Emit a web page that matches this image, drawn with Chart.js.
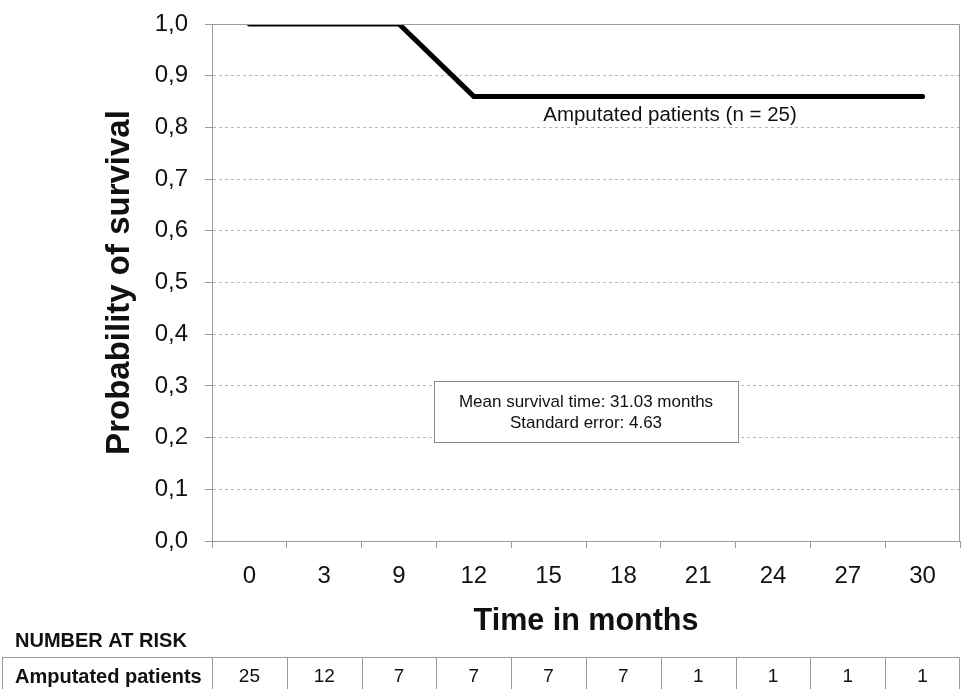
<!DOCTYPE html>
<html>
<head>
<meta charset="utf-8">
<script src="https://cdn.jsdelivr.net/npm/chart.js@4.4.0/dist/chart.umd.min.js"></script>
<style>
    html, body { margin: 0; padding: 0; background: #fff; }
    #wrap { width: 962px; height: 689px; }
</style>
</head>
<body>
<div id="wrap"><canvas id="survivalChart" width="962" height="689"></canvas></div>
<script>
// Kaplan-Meier data
const months = ['0', '3', '9', '12', '15', '18', '21', '24', '27', '30'];
const survival = [1.0, 1.0, 1.0, 0.86, 0.86, 0.86, 0.86, 0.86, 0.86, 0.86];
const numberAtRisk = [25, 12, 7, 7, 7, 7, 1, 1, 1, 1];
const seriesName = 'Amputated patients';
const seriesLabel = 'Amputated patients (n = 25)';
const statsLines = ['Mean survival time: 31.03 months', 'Standard error: 4.63'];

const FONT = '"Liberation Sans", Arial, sans-serif';
const GRID = '#b8b8b8';
const AXIS = '#9a9a9a';

// extras: frame, annotations and the number-at-risk table
const extras = {
    id: 'extras',
    afterDraw(chart) {
        const ctx = chart.ctx;
        const area = chart.chartArea;
        const x = chart.scales.x;

        ctx.save();
        // solid frame top and right
        ctx.strokeStyle = AXIS;
        ctx.lineWidth = 1;
        ctx.beginPath();
        ctx.moveTo(area.left, area.top + 0.5);
        ctx.lineTo(area.right - 0.5, area.top + 0.5);
        ctx.lineTo(area.right - 0.5, area.bottom);
        ctx.stroke();

        // series label
        ctx.fillStyle = '#111';
        ctx.textAlign = 'center';
        ctx.textBaseline = 'middle';
        ctx.font = '20.5px ' + FONT;
        ctx.fillText(seriesLabel, 670, 115);

        // stats box
        ctx.fillStyle = '#fff';
        ctx.fillRect(434.5, 381.5, 304, 61);
        ctx.strokeStyle = '#8a8a8a';
        ctx.strokeRect(434.5, 381.5, 304, 61);
        ctx.fillStyle = '#111';
        ctx.font = '17px ' + FONT;
        statsLines.forEach((t, i) => ctx.fillText(t, 586, 402 + i * 21));

        // number at risk
        ctx.textAlign = 'left';
        ctx.font = 'bold 20px ' + FONT;
        ctx.fillText('NUMBER AT RISK', 15, 641);

        const top = 657.5, bottom = 700;
        ctx.strokeStyle = AXIS;
        ctx.beginPath();
        ctx.moveTo(2, top);
        ctx.lineTo(area.right - 0.5, top);
        ctx.moveTo(2.5, top);
        ctx.lineTo(2.5, bottom);
        ctx.stroke();
        ctx.fillText(seriesName, 15, 677);

        ctx.font = '19px ' + FONT;
        ctx.textAlign = 'center';
        const half = (x.getPixelForValue(1) - x.getPixelForValue(0)) / 2;
        numberAtRisk.forEach((n, i) => {
            const cx = x.getPixelForValue(i);
            const left = Math.round(cx - half) + 0.5;
            ctx.beginPath();
            ctx.moveTo(left, top);
            ctx.lineTo(left, bottom);
            ctx.stroke();
            ctx.fillText(String(n), cx, 677);
        });
        ctx.beginPath();
        ctx.moveTo(area.right - 0.5, top);
        ctx.lineTo(area.right - 0.5, bottom);
        ctx.stroke();
        ctx.restore();
    }
};

new Chart(document.getElementById('survivalChart'), {
    type: 'line',
    data: {
        labels: months,
        datasets: [{
            label: seriesName,
            data: survival,
            borderColor: '#000',
            borderWidth: 5,
            borderCapStyle: 'round',
            pointRadius: 0,
            tension: 0,
            fill: false
        }]
    },
    options: {
        responsive: false,
        animation: false,
        layout: { padding: { top: 24, right: 2, left: 0, bottom: 0 } },
        plugins: {
            legend: { display: false },
            tooltip: { enabled: false }
        },
        scales: {
            x: {
                offset: true,
                afterFit: (s) => { s.height = 148; },
                grid: {
                    display: true,
                    offset: true,
                    drawOnChartArea: false,
                    drawTicks: true,
                    tickLength: 7,
                    tickColor: AXIS
                },
                border: { display: true, color: AXIS, width: 1 },
                ticks: {
                    color: '#111',
                    padding: 14,
                    maxRotation: 0,
                    font: { family: FONT, size: 24 }
                },
                title: {
                    display: true,
                    text: 'Time in months',
                    color: '#111',
                    padding: { top: 0, bottom: 49 },
                    font: { family: FONT, size: 30.5, weight: 'bold' }
                }
            },
            y: {
                min: 0,
                max: 1,
                afterFit: (s) => {
                    s.width = 212;
                    s.paddingTop = 0;
                    s.paddingBottom = 0;
                },
                grid: {
                    color: GRID,
                    lineWidth: 1,
                    drawTicks: true,
                    tickLength: 7,
                    tickColor: AXIS
                },
                border: { display: true, color: AXIS, width: 1, dash: [3, 3] },
                ticks: {
                    stepSize: 0.1,
                    color: '#111',
                    padding: 17,
                    font: { family: FONT, size: 24 },
                    callback: (v) => v.toFixed(1).replace('.', ',')
                },
                title: {
                    display: true,
                    text: 'Probability of survival',
                    color: '#111',
                    padding: { top: 100, bottom: 0 },
                    font: { family: FONT, size: 33, weight: 'bold' }
                }
            }
        }
    },
    plugins: [extras]
});
</script>
</body>
</html>
